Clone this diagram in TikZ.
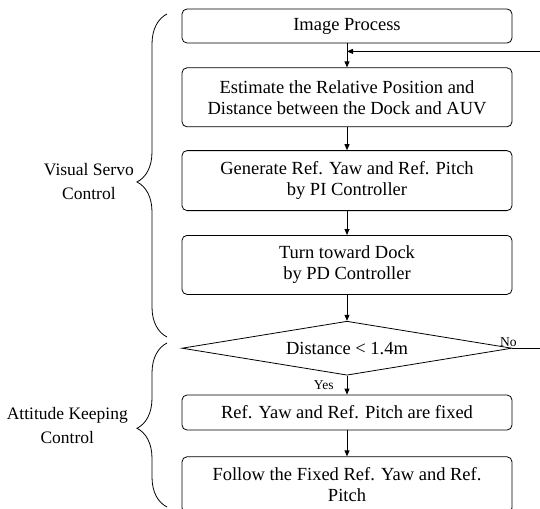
\documentclass[tikz,border=0pt]{standalone}
\usepackage{fontspec}
\setmainfont{Liberation Serif}
\usetikzlibrary{positioning, arrows.meta, shapes.geometric, decorations.pathreplacing}

\begin{document}
\begin{tikzpicture}[
            x=1pt, y=1pt,
            node distance=24pt,
            box/.style={draw, rounded corners=5pt, align=center, minimum width=330pt, inner sep=0pt, line width=0.8pt, font=\fontsize{18.5}{21}\selectfont},
            decision/.style={draw, diamond, aspect=6, minimum width=330pt, minimum height=54pt, inner sep=0pt, line width=0.8pt, font=\fontsize{18.5}{21}\selectfont},
            arrow/.style={-{Triangle[length=6pt, width=5pt]}, line width=0.8pt},
            curly/.style={decorate, decoration={brace, amplitude=30pt, aspect=0.48}, line width=0.8pt},
            group/.style={align=center, anchor=east, inner sep=0pt, font=\fontsize{17.5}{24}\selectfont},
            tag/.style={inner sep=1pt, font=\fontsize{13.5}{15}\selectfont}
        ]
            \useasboundingbox (0,0) rectangle (540,-508);
            \node[box, minimum height=34pt] (image) at (347,-26) {Image Process};
\node[box, minimum height=59pt, below=24pt of image] (estimate) {Estimate the Relative Position and\\Distance between the Dock and AUV};
            \node[box, minimum height=60pt, below=23pt of estimate] (generate) {Generate Ref. Yaw and Ref. Pitch\\by PI Controller};
            \node[box, minimum height=59pt, below=24pt of generate] (turn) {Turn toward Dock\\by PD Controller};
\node[decision, below=26pt of turn] (distance) {Distance < 1.4m};
            \node[box, minimum height=35pt, below=19pt of distance] (fixed) {Ref. Yaw and Ref. Pitch are fixed};
            \node[box, minimum height=56pt, below=26pt of fixed] (follow) {Follow the Fixed Ref. Yaw and Ref.\\Pitch};
            \coordinate (join) at ([yshift=-8pt]image.south);
            \coordinate (loop) at ([xshift=30pt]distance.east);
            \draw[arrow] (image) -- (estimate);
            \draw[arrow] (estimate) -- (generate);
            \draw[arrow] (generate) -- (turn);
\draw[arrow] (turn) -- (distance);
            \draw[arrow] (distance) -- node[tag, left=12pt] {Yes} (fixed);
            \draw[arrow] (fixed) -- (follow);
            \draw[arrow] (distance.east) -- (loop) |- (join);
            \node[tag, above=0pt, xshift=-4pt] at (distance.east) {No};
            % braces on the left
            \draw[curly] (167,-337) -- (167,-14);
            \draw[curly] (167,-507) -- (167,-343);
            \node[group] (visual) at (134,-182) {Visual Servo\\Control};
            \node[group] (attitude) at (128,-426) {Attitude Keeping\\Control};
        \end{tikzpicture}
\end{document}
